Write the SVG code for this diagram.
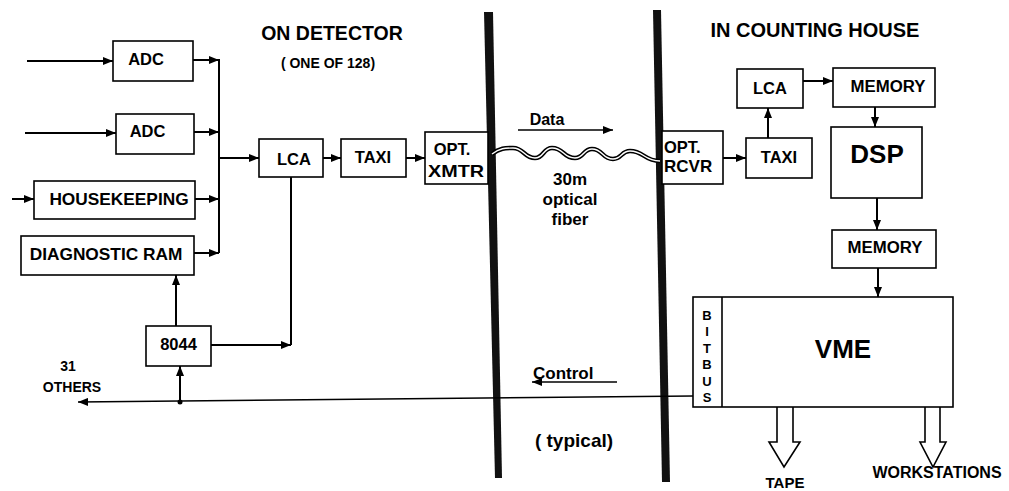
<svg xmlns="http://www.w3.org/2000/svg" width="1009" height="491" viewBox="0 0 1009 491">
<style>
.b{fill:#fff;stroke:#000;stroke-width:1.6}
.t{font-family:"Liberation Sans",Arial,sans-serif;font-weight:bold;font-size:16.5px;fill:#000;text-anchor:middle}
.c{fill:none;stroke:#000;stroke-width:2}
.thin{fill:none;stroke:#000;stroke-width:1.5}
</style>
<defs>
<marker id="ah" markerUnits="userSpaceOnUse" markerWidth="10" markerHeight="8" refX="10" refY="4" orient="auto">
<path d="M0,0 L10,4 L0,8 z" fill="#000"/>
</marker>
</defs>
<rect width="1009" height="491" fill="#fff"/>

<g id="walls" fill="#111">
<polygon points="484,12 493,12 502,478 495,478"/>
<polygon points="653,10 661,10 670,482 662,482"/>
</g>

<g id="titles">
<text class="t" x="332" y="40" style="font-size:19.5px">ON DETECTOR</text>
<text class="t" x="328" y="68" style="font-size:14px">( ONE OF 128)</text>
<text class="t" x="815" y="37" style="font-size:20px">IN COUNTING HOUSE</text>
</g>

<g id="connectors">
<path class="c" d="M27,61 H113" marker-end="url(#ah)"/>
<path class="c" d="M25,133 H116" marker-end="url(#ah)"/>
<path class="c" d="M12,199 H34" marker-end="url(#ah)"/>
<path class="c" d="M193,60 H219" marker-end="url(#ah)"/>
<path class="c" d="M194,132 H219" marker-end="url(#ah)"/>
<path class="c" d="M195,199 H219" marker-end="url(#ah)"/>
<path class="c" d="M194,253 H219" marker-end="url(#ah)"/>
<path class="c" d="M219,59 V253"/>
<path class="c" d="M219,158 H259" marker-end="url(#ah)"/>
<path class="c" d="M323,158 H341" marker-end="url(#ah)"/>
<path class="c" d="M406,158 H425" marker-end="url(#ah)"/>
<path class="c" d="M291,177 V345"/>
<path class="c" d="M211,345 H291" marker-end="url(#ah)"/>
<path class="c" d="M176,326 V275" marker-end="url(#ah)"/>
<path class="c" d="M180,402 V366" marker-end="url(#ah)"/>
<path class="thin" d="M693,396 L78,402" marker-end="url(#ah)"/>
<circle cx="180" cy="402" r="2.5" fill="#000"/>
<path d="M492,154 C500,148 505,148 513,148 C524,148 524,158 535,158 C544,158 543,148 552,148 C564,148 563,158 575,158 C584,158 583,149 592,149 C603,149 602,159 613,159 C622,159 621,151 630,151 C644,151 644,161 660,161" fill="none" stroke="#000" stroke-width="4.5"/>
<path d="M492,154 C500,148 505,148 513,148 C524,148 524,158 535,158 C544,158 543,148 552,148 C564,148 563,158 575,158 C584,158 583,149 592,149 C603,149 602,159 613,159 C622,159 621,151 630,151 C644,151 644,161 660,161" fill="none" stroke="#fff" stroke-width="1.4"/>
<path class="thin" d="M518,130 H613" marker-end="url(#ah)"/>
<path class="thin" d="M617,382 H532" marker-end="url(#ah)"/>
<path class="c" d="M723,158 H746" marker-end="url(#ah)"/>
<path class="c" d="M768,138 V108" marker-end="url(#ah)"/>
<path class="c" d="M803,81 H833" marker-end="url(#ah)"/>
<path class="c" d="M875,107 V127" marker-end="url(#ah)"/>
<path class="c" d="M877,198 V230" marker-end="url(#ah)"/>
<path class="c" d="M878,268 V297" marker-end="url(#ah)"/>
<path class="b" d="M777,407 V442 H769 L784,467 L800,442 H793 V407"/>
<path class="b" d="M925,407 V442 H920 L933,467 L946,442 H940 V407"/>
</g>

<g id="labels">
<text class="t" x="547" y="125" style="font-size:16px">Data</text>
<text class="t" x="570" y="185" style="font-size:17px">30m</text>
<text class="t" x="570" y="205" style="font-size:17px">optical</text>
<text class="t" x="570" y="225" style="font-size:17px">fiber</text>
<text class="t" x="533" y="379" style="font-size:17px;text-anchor:start">Control</text>
<text class="t" x="574" y="447" style="font-size:19px">( typical)</text>
<text class="t" x="68" y="371" style="font-size:14px">31</text>
<text class="t" x="72" y="392" style="font-size:14px">OTHERS</text>
<text class="t" x="785" y="488" style="font-size:15px">TAPE</text>
<text class="t" x="937" y="478" style="font-size:16px">WORKSTATIONS</text>
</g>

<g id="adc1"><rect class="b" x="113" y="41" width="80" height="40"/><text class="t" x="146" y="65">ADC</text></g>
<g id="adc2"><rect class="b" x="116" y="114" width="78" height="40"/><text class="t" x="147.5" y="137">ADC</text></g>
<g id="housekeeping"><rect class="b" x="34" y="181" width="161" height="38"/><text class="t" x="119" y="205" style="font-size:17.3px">HOUSEKEEPING</text></g>
<g id="diagram"><rect class="b" x="21" y="236" width="173" height="39"/><text class="t" x="106" y="260" style="font-size:17.3px">DIAGNOSTIC  RAM</text></g>
<g id="p8044"><rect class="b" x="146" y="326" width="65" height="40"/><text class="t" x="178.5" y="350">8044</text></g>
<g id="lca1"><rect class="b" x="259" y="139" width="64" height="38"/><text class="t" x="294" y="165">LCA</text></g>
<g id="taxi1"><rect class="b" x="341" y="139" width="65" height="38"/><text class="t" x="373" y="163">TAXI</text></g>
<g id="xmtr"><rect class="b" x="425" y="132" width="63" height="52"/><text class="t" x="452" y="155">OPT.</text><text class="t" x="456" y="177" textLength="56" lengthAdjust="spacingAndGlyphs">XMTR</text></g>
<g id="rcvr"><rect class="b" x="662" y="131" width="61" height="53"/><text class="t" x="664" y="153" style="text-anchor:start">OPT.</text><text class="t" x="664" y="172" style="text-anchor:start;font-size:17px">RCVR</text></g>
<g id="taxi2"><rect class="b" x="746" y="138" width="66" height="40"/><text class="t" x="779" y="163">TAXI</text></g>
<g id="lca2"><rect class="b" x="737" y="69" width="66" height="39"/><text class="t" x="770" y="94">LCA</text></g>
<g id="memory1"><rect class="b" x="833" y="68" width="102" height="39"/><text class="t" x="888" y="92" style="font-size:16.8px">MEMORY</text></g>
<g id="dsp"><rect class="b" x="831" y="127" width="91" height="71"/><text class="t" x="877" y="163" style="font-size:26px">DSP</text></g>
<g id="memory2"><rect class="b" x="832" y="230" width="104" height="38"/><text class="t" x="885" y="253" style="font-size:16.8px">MEMORY</text></g>
<g id="vme">
<rect class="b" x="693" y="297" width="260" height="110"/>
<line x1="722" y1="297" x2="722" y2="407" stroke="#000" stroke-width="1.6"/>
<text class="t" x="843" y="358" style="font-size:26px">VME</text>
<g style="font-size:13px">
<text class="t" x="707" y="320" style="font-size:13px">B</text>
<text class="t" x="707" y="336" style="font-size:13px">I</text>
<text class="t" x="707" y="353" style="font-size:13px">T</text>
<text class="t" x="707" y="369" style="font-size:13px">B</text>
<text class="t" x="707" y="386" style="font-size:13px">U</text>
<text class="t" x="707" y="402" style="font-size:13px">S</text>
</g>
</g>
</svg>
